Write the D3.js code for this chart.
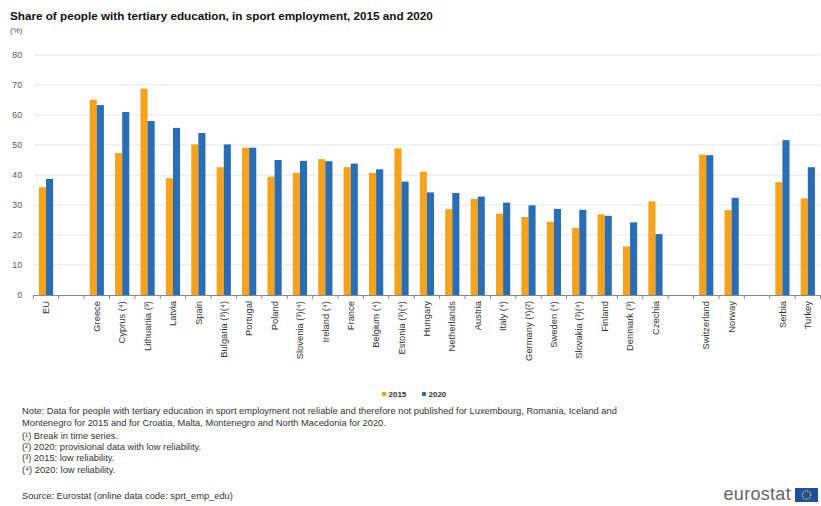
<!DOCTYPE html>
<html>
<head>
<meta charset="utf-8">
<script src="https://cdn.jsdelivr.net/npm/d3@7"></script>
<style>
  html, body { margin: 0; padding: 0; background: #fff; }
  svg { display: block; font-family: Arial, "Liberation Sans", sans-serif; }
</style>
</head>
<body>
<svg id="chart" width="821" height="506"></svg>
<script>
// Categories in display order; empty entries are spacer slots between groups
const categories = [
  "EU", "",
  "Greece", "Cyprus (⁴)", "Lithuania (³)", "Latvia", "Spain", "Bulgaria (³)(⁴)",
  "Portugal", "Poland", "Slovenia (³)(⁴)", "Ireland (⁴)", "France", "Belgium (⁴)",
  "Estonia (³)(⁴)", "Hungary", "Netherlands", "Austria", "Italy (⁴)",
  "Germany (¹)(²)", "Sweden (⁴)", "Slovakia (³)(⁴)", "Finland", "Denmark (³)", "Czechia",
  "",
  "Switzerland", "Norway",
  "",
  "Serbia", "Turkey"
];
const values2015 = [
  35.9, null,
  65.1, 47.3, 68.8, 38.9, 50.2, 42.6,
  49.1, 39.4, 40.7, 45.3, 42.6, 40.7,
  48.9, 41.1, 28.6, 32.0, 27.1,
  26.0, 24.4, 22.4, 26.9, 16.2, 31.2,
  null,
  46.8, 28.3,
  null,
  37.6, 32.2
];
const values2020 = [
  38.7, null,
  63.3, 61.0, 58.0, 55.7, 54.0, 50.2,
  49.1, 45.0, 44.7, 44.6, 43.8, 41.9,
  37.8, 34.2, 34.0, 32.8, 30.8,
  29.9, 28.7, 28.4, 26.4, 24.2, 20.3,
  null,
  46.6, 32.4,
  null,
  51.6, 42.6
];
const seriesNames = ["2015", "2020"];
const seriesColors = ["#f7a21b", "#2a6db5"];
const yTicks = [0, 10, 20, 30, 40, 50, 60, 70, 80];

const notes = [
  "Note: Data for people with tertiary education in sport employment not reliable and therefore not published for Luxembourg, Romania, Iceland and",
  "Montenegro for 2015 and for Croatia, Malta, Montenegro and North Macedonia for 2020."
];
const footnotes = [
  "(¹) Break in time series.",
  "(²) 2020: provisional data with low reliability.",
  "(³) 2015: low reliability.",
  "(⁴) 2020: low reliability."
];
const source = "Source: Eurostat (online data code: sprt_emp_edu)";

const svg = d3.select("#chart");

// Slot keys (index-based so spacer slots stay distinct)
const slots = categories.map((c, i) => i);
const x = d3.scaleBand().domain(slots).range([33.3, 820.5]).padding(0);
const y = d3.scaleLinear().domain([0, 80]).range([295, 55]);

const groupWidth = x.bandwidth() * 0.56;
const xs = d3.scaleBand().domain(seriesNames).range([0, groupWidth]).padding(0);

// Title and unit
svg.append("text").attr("x", 10).attr("y", 20)
  .attr("font-size", 11.7).attr("font-weight", "bold").attr("fill", "#111")
  .text("Share of people with tertiary education, in sport employment, 2015 and 2020");
svg.append("text").attr("x", 10).attr("y", 33)
  .attr("font-size", 8).attr("fill", "#555").text("(%)");

// Gridlines
svg.append("g").selectAll("line").data(yTicks.filter(t => t > 0)).join("line")
  .attr("x1", 33.3).attr("x2", 820.5)
  .attr("y1", d => y(d)).attr("y2", d => y(d))
  .attr("stroke", "#e3e3e3").attr("stroke-width", 1);

// Y axis labels
svg.append("g").selectAll("text").data(yTicks).join("text")
  .attr("x", 22).attr("y", d => y(d) + 3)
  .attr("text-anchor", "end").attr("font-size", 8.7).attr("fill", "#555")
  .text(d => d);

// Bars
const rows = categories.map((c, i) => ({ i, c, v: [values2015[i], values2020[i]] }));
const groups = svg.append("g").selectAll("g").data(rows.filter(r => r.c !== "")).join("g")
  .attr("transform", r => `translate(${x(r.i) + (x.bandwidth() - groupWidth) / 2},0)`);
groups.selectAll("rect").data(r => seriesNames.map((s, k) => ({ s, k, v: r.v[k] })).filter(d => d.v != null))
  .join("rect")
  .attr("x", d => xs(d.s))
  .attr("width", xs.bandwidth())
  .attr("y", d => y(d.v))
  .attr("height", d => y(0) - y(d.v))
  .attr("fill", d => seriesColors[d.k]);

// X axis line with ticks at slot boundaries
const axis = svg.append("g");
axis.append("line").attr("x1", 33.3).attr("x2", 820.5).attr("y1", 295.5).attr("y2", 295.5)
  .attr("stroke", "#888");
const bounds = slots.map(i => x(i)).concat([x(slots[slots.length - 1]) + x.bandwidth()]);
axis.selectAll("line.tick").data(bounds).join("line").attr("class", "tick")
  .attr("x1", d => d).attr("x2", d => d).attr("y1", 295.5).attr("y2", 299)
  .attr("stroke", "#888");

// Category labels, rotated
svg.append("g").selectAll("text").data(rows.filter(r => r.c !== "")).join("text")
  .attr("transform", r => `translate(${x(r.i) + x.bandwidth() / 2 + 3.2},301) rotate(-90)`)
  .attr("text-anchor", "end").attr("font-size", 9.4).attr("fill", "#333")
  .text(r => r.c);

// Legend
const legend = svg.append("g").attr("transform", "translate(382,397)");
seriesNames.forEach((s, k) => {
  const g = legend.append("g").attr("transform", `translate(${k * 40},0)`);
  g.append("rect").attr("x", 0).attr("y", -5).attr("width", 4).attr("height", 4).attr("fill", seriesColors[k]);
  g.append("text").attr("x", 6.5).attr("y", 0).attr("font-size", 8).attr("font-weight", "bold")
    .attr("fill", "#333").text(s);
});

// Notes
const noteG = svg.append("g").attr("font-size", 9.3).attr("fill", "#333");
notes.forEach((t, k) => noteG.append("text").attr("x", 22).attr("y", 414 + k * 12).text(t));
footnotes.forEach((t, k) => noteG.append("text").attr("x", 22).attr("y", 439 + k * 11.2).text(t));
noteG.append("text").attr("x", 22).attr("y", 499).text(source);

// Eurostat logo
const logo = svg.append("g");
logo.append("text").attr("x", 791).attr("y", 500).attr("text-anchor", "end")
  .attr("font-size", 18).attr("fill", "#666").attr("letter-spacing", 0.3).text("eurostat");
logo.append("rect").attr("x", 795).attr("y", 488).attr("width", 23).attr("height", 14).attr("fill", "#1e4fa0");
logo.append("circle").attr("cx", 806.5).attr("cy", 495).attr("r", 4.2)
  .attr("fill", "none").attr("stroke", "#f5d000").attr("stroke-width", 1.2).attr("stroke-dasharray", "1.2,1");
</script>
</body>
</html>
